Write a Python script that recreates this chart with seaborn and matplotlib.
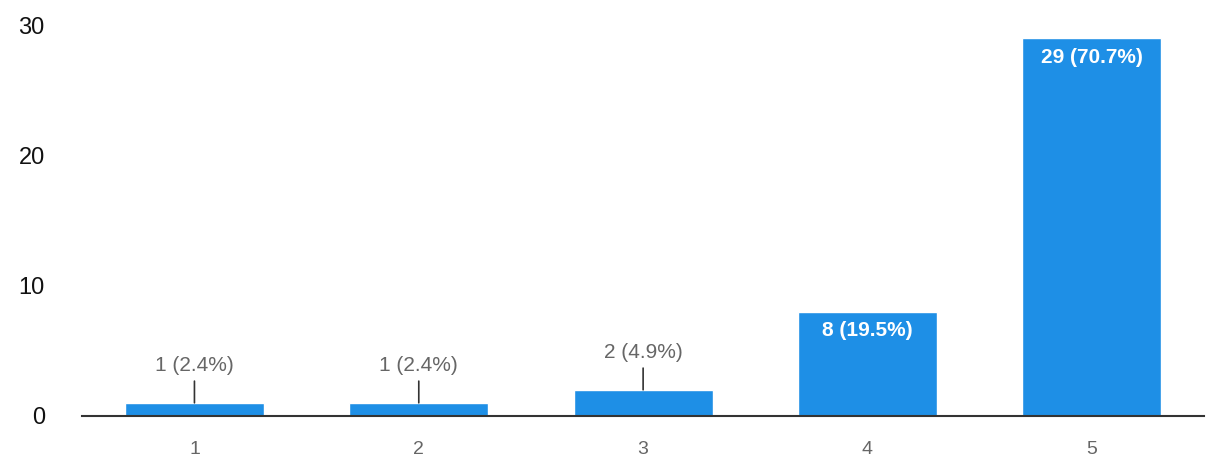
import pandas as pd
import matplotlib
matplotlib.use("Agg")
import matplotlib.pyplot as plt
import seaborn as sns

# Données
categories = ["1", "2", "3", "4", "5"]
counts = [1, 1, 2, 8, 29]
labels = ["1 (2.4%)", "1 (2.4%)", "2 (4.9%)", "8 (19.5%)", "29 (70.7%)"]
y_ticks = [0, 10, 20, 30]

sns.set_style("white")
plt.rcParams["font.family"] = ["Liberation Sans", "DejaVu Sans"]

df = pd.DataFrame({"note": categories, "nb": counts})

fig = plt.figure(figsize=(12.1, 4.57), dpi=100)
ax = fig.add_axes([0.068, 0.09, 0.927, 0.855])

sns.barplot(data=df, x="note", y="nb", color="#1e8fe6", saturation=1,
            width=0.62, ax=ax)

ax.set_xlim(-0.5, 4.5)
ax.set_ylim(0, 30)
ax.set_yticks(y_ticks)
ax.set_yticklabels([str(t) for t in y_ticks], fontsize=17, color="#111111")
ax.tick_params(axis="x", labelsize=14, labelcolor="#666666", length=0, pad=18)
ax.tick_params(axis="y", length=0, pad=27)
ax.set_xlabel("")
ax.set_ylabel("")

for s in ["top", "right", "left"]:
    ax.spines[s].set_visible(False)
ax.spines["bottom"].set_color("#333333")
ax.spines["bottom"].set_linewidth(1.5)

# Étiquettes : au-dessus avec un trait pour les petites barres, dedans pour les grandes
for i, (v, lab) in enumerate(zip(counts, labels)):
    if v < 5:
        ax.annotate(lab, xy=(i, v), xytext=(0, 20), textcoords="offset points",
                    ha="center", va="bottom", fontsize=15, color="#666666",
                    arrowprops=dict(arrowstyle="-", color="#333333", lw=1.2,
                                    shrinkA=2, shrinkB=0))
    else:
        ax.annotate(lab, xy=(i, v), xytext=(0, -7), textcoords="offset points",
                    ha="center", va="top", fontsize=15, color="white",
                    fontweight="bold")

fig.savefig("out.png", dpi=100)
